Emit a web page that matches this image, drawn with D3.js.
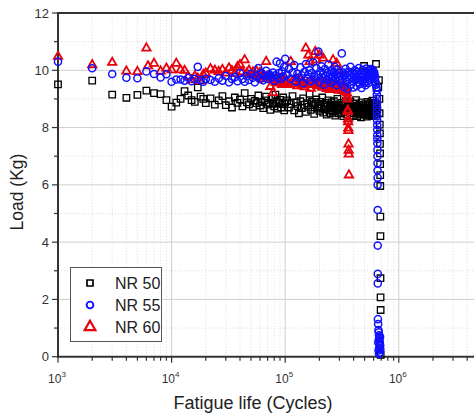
<!DOCTYPE html>
<html>
<head>
<meta charset="utf-8">
<script src="https://cdn.jsdelivr.net/npm/d3@7"></script>
<style>
  body { margin: 0; background: #fff; }
  svg { display: block; font-family: Arial, "Liberation Sans", sans-serif; }
</style>
</head>
<body>
<div class="fatigueChart"></div>
<script>
// fatigue cycles, in thousands (regular sampling grid shared by the series)
const kCycles = [
  1,2,3,4,5,6,7,8,9,10,11,12,13,14,15,16,17,18,19,20,
  22,24,26,28,30,32,34,36,38,40,42,44,46,48,50,52,54,56,58,60,
  62,64,66,68,70,72,74,76,78,80,82,84,86,88,90,92,94,96,98,100,
  104,108,112,116,120,124,128,132,136,140,144,148,152,156,160,164,168,172,176,180,
  184,188,192,196,200,204,208,212,216,220,224,228,232,236,240,244,248,252,256,260,
  264,268,272,276,280,284,288,292,296,300,
  305,310,315,320,325,330,335,340,345,350,355,360,365,370,375,380,385,390,395,400,
  405,410,415,420,425,430,435,440,445,450,455,460,465,470,475,480,485,490,495,500,
  505,510,515,520,525,530,535,540,545,550,555,560,565,570,575,580,585,590,595,600,
  605,610,615,620,625,630,635,640
];

// load (Kg) read at each kCycles entry
const nr50Load = [
  9.51,9.64,9.15,9.04,9.14,9.29,9.2,9.17,8.96,8.73,8.87,9.0,9.27,9.12,8.96,8.9,9.4,9.08,9.0,8.85,
  9.02,8.8,8.95,9.1,8.78,8.92,8.7,9.05,8.86,8.98,8.74,9.2,8.88,8.81,9.0,8.72,8.93,8.85,9.12,8.77,
  8.9,8.68,8.95,9.08,8.8,8.87,8.62,9.0,8.83,8.74,9.15,8.9,8.66,8.85,8.97,8.7,8.82,9.05,8.6,8.88,
  8.95,8.7,8.82,9.1,8.6,8.88,8.75,8.5,8.92,8.68,9.02,8.8,8.55,8.85,8.72,9.18,8.62,8.9,8.78,8.48,
  8.84,8.98,8.66,8.75,8.58,8.9,8.7,9.05,8.52,8.8,8.64,8.86,8.45,8.74,8.95,8.6,8.78,8.5,8.88,8.68,
  8.56,8.92,8.72,8.42,8.8,8.62,9.0,8.66,8.5,8.76,
  8.7,8.5,8.86,8.62,8.4,8.78,8.55,8.92,8.66,8.45,8.8,8.58,8.72,8.38,8.9,8.64,8.5,8.76,8.6,8.42,
  8.84,8.68,8.52,8.96,8.58,8.4,8.74,8.62,8.48,8.8,8.55,8.7,8.36,8.88,8.6,8.46,8.75,8.57,10.15,8.66,
  8.44,8.82,8.52,8.7,8.38,8.9,8.62,8.48,8.78,8.56,8.42,8.85,8.6,8.5,8.72,8.4,8.94,8.64,8.46,8.8,
  8.58,8.7,8.44,8.86,8.62,10.22,8.52,8.76
];

const nr55Load = [
  10.3,10.07,9.87,9.74,9.72,9.96,9.87,9.75,9.86,9.6,9.68,9.68,9.64,9.74,9.62,9.7,10.12,9.66,9.6,9.7,
  9.66,9.6,9.72,9.64,9.8,9.58,9.7,9.76,9.62,9.9,9.7,9.6,9.8,9.66,9.88,9.74,9.58,9.8,10.08,9.7,
  9.9,9.65,9.8,9.98,9.7,9.86,9.82,9.76,9.92,9.64,9.82,10.3,9.74,9.9,10.24,9.7,9.96,9.78,10.12,10.4,
  9.85,10.05,9.7,9.92,10.18,9.6,9.88,9.75,10.1,9.82,9.55,9.95,10.22,9.7,9.86,10.0,9.62,9.9,10.28,9.78,
  9.68,10.08,9.84,10.65,9.58,9.96,10.14,9.74,9.88,9.5,10.04,9.8,9.66,9.92,10.2,9.7,9.86,9.56,10.0,9.78,
  9.62,9.94,10.12,9.72,9.84,9.48,10.02,9.76,9.9,9.64,
  9.8,9.55,10.59,9.7,9.92,9.42,9.85,10.05,9.6,9.76,9.35,9.95,9.68,9.82,10.12,9.5,9.74,9.9,9.62,9.4,
  9.86,10.0,9.66,9.78,9.45,9.94,9.7,9.58,10.08,9.82,9.52,9.76,9.9,9.38,9.72,10.02,9.64,9.84,9.55,9.96,
  9.7,9.48,9.88,10.06,9.62,9.8,9.92,9.56,9.86,10.0,9.74,9.9,9.66,10.04,9.84,9.95,9.78,10.02,9.88,9.96,
  9.82,9.9,9.7,9.76,9.58,9.5,9.4,9.3
];

const nr60Load = [
  10.48,10.19,10.27,9.97,9.95,10.77,10.24,9.97,10.07,10.01,10.24,10.01,9.99,9.78,9.66,9.8,9.72,9.63,9.85,9.9,
  10.05,10.0,9.95,10.02,9.9,10.08,9.98,9.88,10.12,10.19,9.95,10.36,9.9,10.0,9.85,9.94,9.8,9.96,9.82,9.92,
  9.7,9.84,9.76,10.3,9.7,9.8,9.43,9.72,9.22,9.66,9.58,9.7,9.55,9.66,9.6,9.72,9.5,9.62,9.68,9.55,
  9.6,9.5,10.3,9.62,9.52,9.7,9.45,9.58,9.66,9.48,9.6,9.42,10.77,9.55,10.53,10.3,9.37,9.64,9.5,9.58,
  10.65,10.36,9.45,9.56,10.53,9.5,9.6,9.4,10.42,9.52,9.46,9.58,9.36,9.5,9.44,9.55,9.32,9.48,9.4,9.5,
  10.36,9.38,9.46,9.32,9.44,10.24,9.36,9.48,9.3,9.4,
  9.95,9.35,9.45,9.3,9.4,9.28,9.38,9.25,9.34,9.2
];

// points off the regular grid: [kCycles, load], mostly the final drop
const nr50Extra = [
  [660,9.4],[668,9.66],[675,9.0],[678,8.5],[680,8.1],[682,7.8],[683,7.43],[684,7.1],[685,6.72],
  [686,6.34],[687,5.96],[688,4.89],[689,4.21],[690,2.74],[691,2.07],[692,1.63],[693,0.06]
];
const nr55Extra = [
  [641,9.15],[642,9.0],[643,8.85],[644,8.7],[644,8.55],[645,8.4],[645,8.25],[646,8.09],[646,7.92],
  [647,7.74],[647,7.6],[648,7.45],[649,7.22],[649,7.0],[650,6.75],[650,6.5],[651,6.25],[651,6.0],
  [652,5.12],[652,3.88],[653,2.89],[653,2.56],[655,1.31],[658,1.14],[662,0.93],[666,0.85],[670,0.75],
  [674,0.66],[678,0.55],[682,0.45],[686,0.38],[672,0.3],[664,0.22],[680,0.15],[668,0.6],[676,0.42],
  [684,0.7],[660,0.5],[688,0.25],[670,0.1]
];
const nr60Extra = [
  [6.2,10.15],[352,9.08],[353,8.99],[355,8.61],[356,8.55],[357,8.29],[358,8.2],[359,7.98],
  [360,7.89],[361,7.42],[362,7.2],[363,7.07],[364,6.34]
];

const yMajor = [0,2,4,6,8,10,12];
const yMinor = [1,3,5,7,9,11];
const xMajor = [1e3,1e4,1e5,1e6];
const xExp = ["3","4","5","6"];

const series = [
  {name: "NR 50", load: nr50Load, extra: nr50Extra, symbol: d3.symbolSquare, size: 42, color: "#000", width: 1.3},
  {name: "NR 60", load: nr60Load, extra: nr60Extra, symbol: d3.symbolTriangle, size: 30, color: "#e8000b", width: 1.8},
  {name: "NR 55", load: nr55Load, extra: nr55Extra, symbol: d3.symbolCircle, size: 40, color: "#1010ff", width: 1.5}
];
const legendOrder = ["NR 50", "NR 55", "NR 60"];

const W = 474, H = 413;
const svg = d3.select(".fatigueChart").append("svg")
  .attr("width", W).attr("height", H);

const x = d3.scaleLog().domain([1e3, 1e7]).range([58, 512.4]);
const y = d3.scaleLinear().domain([0, 12]).range([356.7, 13]);

// minor grid (dotted)
let xMinor = [];
for (let d = 1e3; d < 1e7; d *= 10) {
  for (let m = 2; m <= 9; m++) xMinor.push(d * m);
}
const grid = svg.append("g");
grid.selectAll(".vminor").data(xMinor).join("line")
  .attr("x1", d => x(d)).attr("x2", d => x(d))
  .attr("y1", y(0)).attr("y2", y(12))
  .attr("stroke", "#dcdcdc").attr("stroke-dasharray", "1,2");
grid.selectAll(".hminor").data(yMinor).join("line")
  .attr("x1", x(1e3)).attr("x2", W)
  .attr("y1", d => y(d)).attr("y2", d => y(d))
  .attr("stroke", "#dcdcdc").attr("stroke-dasharray", "1,2");
// major grid
grid.selectAll(".vmajor").data(xMajor.slice(1)).join("line")
  .attr("x1", d => x(d)).attr("x2", d => x(d))
  .attr("y1", y(0)).attr("y2", y(12))
  .attr("stroke", "#cfcfcf");
grid.selectAll(".hmajor").data(yMajor.slice(1, -1)).join("line")
  .attr("x1", x(1e3)).attr("x2", W)
  .attr("y1", d => y(d)).attr("y2", d => y(d))
  .attr("stroke", "#cfcfcf");

// axes
const axisColor = "#333";
const axes = svg.append("g");
axes.append("line").attr("x1", x(1e3)).attr("x2", W).attr("y1", y(12)).attr("y2", y(12))
  .attr("stroke", axisColor).attr("stroke-width", 2);
axes.append("line").attr("x1", x(1e3)).attr("x2", x(1e3)).attr("y1", y(12) - 1).attr("y2", y(0) + 1)
  .attr("stroke", axisColor).attr("stroke-width", 2);
axes.append("line").attr("x1", x(1e3) - 1).attr("x2", W).attr("y1", y(0)).attr("y2", y(0))
  .attr("stroke", axisColor).attr("stroke-width", 2);

axes.selectAll(".ytick").data(yMajor).join("line")
  .attr("x1", x(1e3) - 6).attr("x2", x(1e3)).attr("y1", d => y(d)).attr("y2", d => y(d))
  .attr("stroke", axisColor).attr("stroke-width", 1.2);
axes.selectAll(".yminor").data(yMinor).join("line")
  .attr("x1", x(1e3) - 4).attr("x2", x(1e3)).attr("y1", d => y(d)).attr("y2", d => y(d))
  .attr("stroke", axisColor).attr("stroke-width", 1.2);
axes.selectAll(".ylab").data(yMajor).join("text")
  .attr("x", x(1e3) - 9).attr("y", d => y(d)).attr("dy", "0.35em")
  .attr("text-anchor", "end").attr("font-size", 13).attr("fill", "#333")
  .text(d => d);

axes.selectAll(".xtick").data(xMajor).join("line")
  .attr("x1", d => x(d)).attr("x2", d => x(d)).attr("y1", y(0)).attr("y2", y(0) + 6)
  .attr("stroke", axisColor).attr("stroke-width", 1.2);
axes.selectAll(".xminor").data(xMinor).join("line")
  .attr("x1", d => x(d)).attr("x2", d => x(d)).attr("y1", y(0)).attr("y2", y(0) + 4)
  .attr("stroke", axisColor).attr("stroke-width", 1.2);
const xl = axes.selectAll(".xlab").data(xMajor).join("text")
  .attr("x", d => x(d) - 1).attr("y", y(0) + 26)
  .attr("text-anchor", "middle").attr("font-size", 12).attr("fill", "#333");
xl.append("tspan").text("10");
xl.append("tspan").attr("dy", -6).attr("font-size", 8).text((d, i) => xExp[i]);

// titles
svg.append("text").attr("transform", "translate(23,192) rotate(-90)")
  .attr("text-anchor", "middle").attr("font-size", 17.5).attr("fill", "#222")
  .text("Load (Kg)");
svg.append("text").attr("x", 253).attr("y", 409)
  .attr("text-anchor", "middle").attr("font-size", 18).attr("fill", "#222")
  .text("Fatigue life (Cycles)");

// markers
const marks = svg.append("g");
series.forEach(s => {
  const pts = kCycles.slice(0, s.load.length).map((k, i) => [k * 1000, s.load[i]])
    .concat(s.extra.map(p => [p[0] * 1000, p[1]]));
  marks.append("g").selectAll("path").data(pts).join("path")
    .attr("transform", d => `translate(${x(d[0])},${y(d[1])})`)
    .attr("d", d3.symbol().type(s.symbol).size(s.size))
    .attr("fill", "none").attr("stroke", s.color).attr("stroke-width", s.width);
});

// legend
const lg = svg.append("g");
lg.append("rect").attr("x", 70.5).attr("y", 267.5).attr("width", 91).attr("height", 74)
  .attr("fill", "#fff").attr("stroke", "#555");
legendOrder.forEach((name, i) => {
  const s = series.find(e => e.name === name);
  const cy = 283 + i * 22;
  lg.append("path").attr("transform", `translate(90,${cy})`)
    .attr("d", d3.symbol().type(s.symbol).size(s.name === "NR 60" ? 50 : 36))
    .attr("fill", "none").attr("stroke", s.color).attr("stroke-width", s.width + 0.4);
  lg.append("text").attr("x", 115).attr("y", cy).attr("dy", "0.36em")
    .attr("font-size", 16).attr("fill", "#222").text(name);
});
</script>
</body>
</html>
